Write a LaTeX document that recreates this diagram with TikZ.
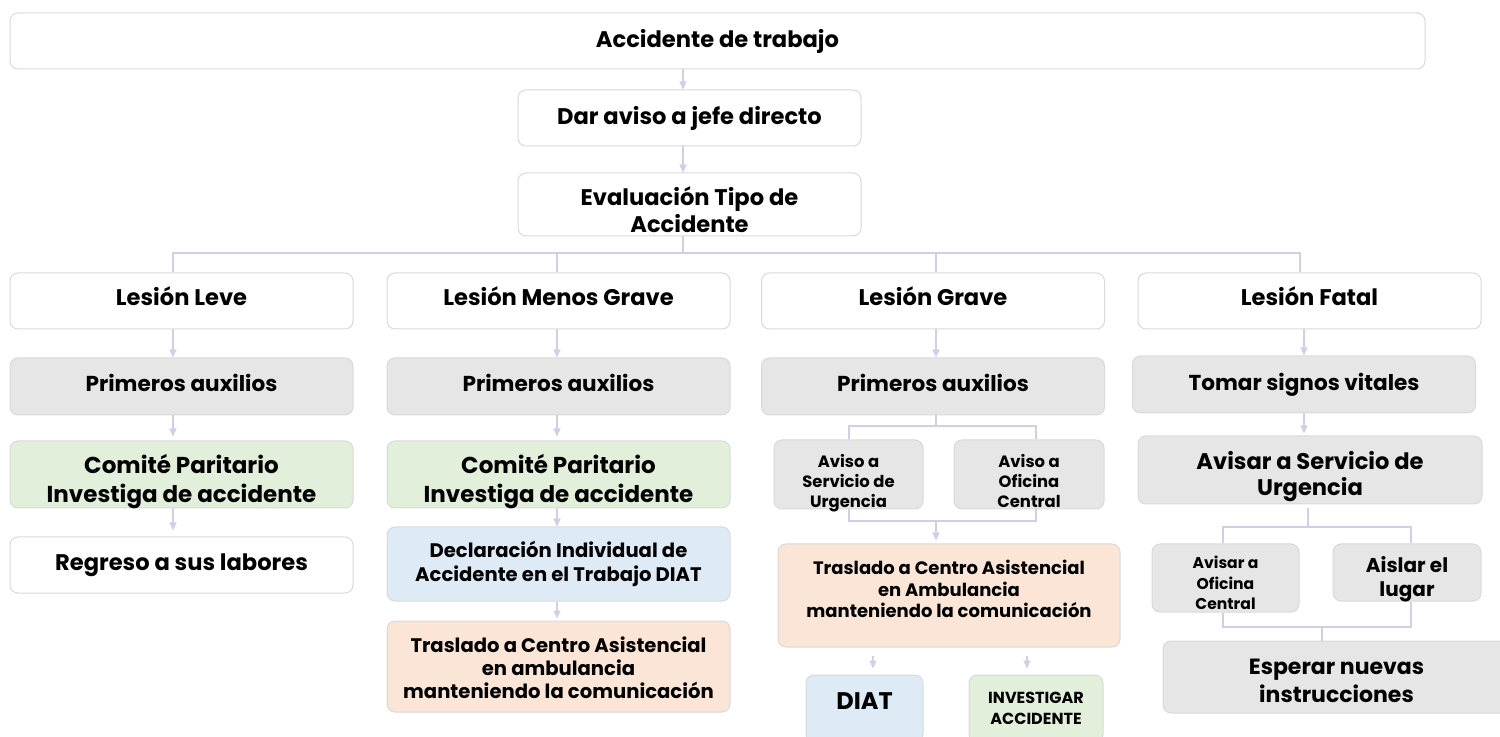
\documentclass[tikz,border=0pt]{standalone}
\usepackage{fontspec}
\setmainfont{Poppins}
\usetikzlibrary{positioning, arrows.meta, calc}

\definecolor{boxline}{HTML}{D9D9D9}
\definecolor{fillgray}{HTML}{E7E6E6}
\definecolor{fillgreen}{HTML}{E2EFDA}
\definecolor{fillblue}{HTML}{DEEBF7}
\definecolor{fillorange}{HTML}{FBE5D6}
\definecolor{connline}{HTML}{D5CDE6}

% texto desplazado verticalmente dentro de la caja
\newcommand{\desplazar}[2]{\raisebox{#1}[\height][\depth]{\begin{tabular}{@{}c@{}}#2\end{tabular}}}

\tikzset{
    box/.style={draw=boxline, line width=0.5pt, rounded corners=4pt,
        align=center, inner sep=1pt, text=black},
    wbox/.style={box, fill=white},
    gbox/.style={box, fill=fillgray},
    grbox/.style={box, fill=fillgreen},
    blbox/.style={box, fill=fillblue},
    orbox/.style={box, fill=fillorange},
    colw/.style={minimum width=171.5pt},
    txtA/.style={font=\bfseries\fontsize{11.3}{13.4}\selectfont},
    txtP/.style={font=\bfseries\fontsize{10.8}{13}\selectfont},
    txtB/.style={font=\bfseries\fontsize{11.5}{14.3}\selectfont},
    txtC/.style={font=\bfseries\fontsize{9.8}{11.7}\selectfont},
    txtD/.style={font=\bfseries\fontsize{8.2}{10.1}\selectfont},
    conn/.style={draw=connline, line width=0.6pt},
    arr/.style={conn, -{Triangle[width=3.5pt,length=4pt]}}
}

\begin{document}
\begin{tikzpicture}[x=0.5pt, y=-0.5pt]
    \useasboundingbox (0,0) rectangle (1500,737);

    % --- cabecera ---
    \node[wbox, txtA, minimum width=707.5pt, minimum height=28pt] (acc) at (717.5,41) {Accidente de trabajo};
    \node[wbox, txtA, colw, minimum height=28pt] (aviso) at (689.5,118) {Dar aviso a jefe directo};
    \node[wbox, txtA, colw, minimum height=31.5pt] (eval) at (689.5,204.5) {\desplazar{-4.5pt}{Evaluación Tipo de\\Accidente}};

    % --- tipos de lesion ---
    \node[wbox, txtA, colw, minimum height=28pt] (leve) at (181.5,301) {\desplazar{0.7pt}{Lesión Leve}};
    \node[wbox, txtA, colw, minimum height=28pt] (mgrave) at (558.5,301) {\desplazar{0.7pt}{Lesión Menos Grave}};
    \node[wbox, txtA, colw, minimum height=28pt] (grave) at (933,301) {\desplazar{0.7pt}{Lesión Grave}};
    \node[wbox, txtA, colw, minimum height=28pt] (fatal) at (1309.5,301) {\desplazar{0.7pt}{Lesión Fatal}};

    % --- primera atencion ---
    \node[gbox, txtP, colw, minimum height=28.5pt] (pa1) at (181.5,386.5) {\desplazar{0pt}{Primeros auxilios}};
    \node[gbox, txtP, colw, minimum height=28.5pt] (pa2) at (558.5,386.5) {\desplazar{0pt}{Primeros auxilios}};
    \node[gbox, txtP, colw, minimum height=28.5pt] (pa3) at (933,386.5) {\desplazar{0pt}{Primeros auxilios}};
    \node[gbox, txtP, colw, minimum height=28.5pt] (signos) at (1304,384.5) {Tomar signos vitales};

    % --- columna leve ---
    \node[grbox, txtB, colw, minimum height=33.5pt] (cp1) at (181.5,474.5) {\desplazar{-4pt}{Comité Paritario\\Investiga de accidente}};
    \node[wbox, txtA, colw, minimum height=28pt] (regreso) at (181.5,565) {Regreso a sus labores};

    % --- columna menos grave ---
    \node[grbox, txtB, colw, minimum height=33.5pt] (cp2) at (558.5,474.5) {\desplazar{-4pt}{Comité Paritario\\Investiga de accidente}};
    \node[blbox, txtC, colw, minimum height=37pt] (diat2) at (558.5,564) {Declaración Individual de\\Accidente en el Trabajo DIAT};
    \node[orbox, txtC, colw, minimum height=45.5pt] (tras2) at (558.5,666.5) {\desplazar{-2.2pt}{Traslado a Centro Asistencial\\en ambulancia\\manteniendo la comunicación}};

    % --- columna grave ---
    \node[gbox, txtD, minimum width=74.5pt, minimum height=34.5pt] (urg3) at (848.5,474.5) {\desplazar{-4.5pt}{Aviso a\\Servicio de\\Urgencia}};
    \node[gbox, txtD, minimum width=75pt, minimum height=34.5pt] (ofi3) at (1029,474.5) {\desplazar{-4.5pt}{Aviso a\\Oficina\\Central}};
    \node[orbox, font=\bfseries\fontsize{9}{10.8}\selectfont, minimum width=171pt, minimum height=51.5pt] (tras3) at (949,595.5) {\desplazar{1.8pt}{Traslado a Centro Asistencial\\en Ambulancia\\manteniendo la comunicación}};
    \node[blbox, font=\bfseries\fontsize{12}{14}\selectfont, minimum width=58.5pt, minimum height=33.5pt] (diat3) at (864.5,708.5) {\desplazar{2.3pt}{DIAT}};
    \node[grbox, font=\bfseries\fontsize{8}{10.5}\selectfont, minimum width=67pt, minimum height=33.5pt] (inv3) at (1036,708.5) {INVESTIGAR\\ACCIDENTE};

    % --- columna fatal ---
    \node[gbox, font=\bfseries\fontsize{11.3}{13.3}\selectfont, minimum width=172pt, minimum height=34pt] (urg4) at (1310,470) {\desplazar{-3.5pt}{Avisar a Servicio de\\Urgencia}};
    \node[gbox, font=\bfseries\fontsize{7.8}{10.2}\selectfont, minimum width=73.5pt, minimum height=34pt] (ofi4) at (1225.5,578) {\desplazar{-3.5pt}{Avisar a\\Oficina\\Central}};
    \node[gbox, font=\bfseries\fontsize{10}{11.8}\selectfont, minimum width=74pt, minimum height=28.5pt] (aislar) at (1407,572.5) {\desplazar{-3.5pt}{Aislar el\\lugar}};
    \node[gbox, font=\bfseries\fontsize{11}{13.8}\selectfont, minimum width=173.5pt, minimum height=36pt] (esperar) at (1336.5,677) {\desplazar{-3pt}{Esperar nuevas\\instrucciones}};

    % --- puntos de paso de los conectores ---
    \coordinate (top) at (683,0);
    \coordinate (busL) at (173,253);
    \coordinate (busR) at (1300,253);
    \coordinate (c1) at (173,0);
    \coordinate (c2) at (557,0);
    \coordinate (c3) at (936,0);
    \coordinate (c4) at (1304,0);
    \coordinate (g3a) at (849,426);
    \coordinate (g3b) at (1036,426);
    \coordinate (g3c) at (849,521);
    \coordinate (g3d) at (1036,521);
    \coordinate (d3) at (873,0);
    \coordinate (i3) at (1027,0);
    \coordinate (f4a) at (1223,527);
    \coordinate (f4b) at (1411,527);
    \coordinate (f4c) at (1223,627);
    \coordinate (f4d) at (1411,627);
    \coordinate (c4b) at (1308,0);
    \coordinate (c4c) at (1322,0);

    % --- conectores ---
    \draw[arr] (top |- acc.south) -- (top |- aviso.north);
    \draw[arr] (top |- aviso.south) -- (top |- eval.north);
    \draw[conn] (top |- eval.south) -- (top |- busL);
    \draw[conn] (busL |- leve.north) -- (busL) -- (busR) -- (busR |- fatal.north);
    \draw[conn] (c2 |- busL) -- (c2 |- mgrave.north);
    \draw[conn] (c3 |- busL) -- (c3 |- grave.north);

    \draw[arr] (c1 |- leve.south) -- (c1 |- pa1.north);
    \draw[arr] (c2 |- mgrave.south) -- (c2 |- pa2.north);
    \draw[arr] (c3 |- grave.south) -- (c3 |- pa3.north);
    \draw[arr] (c4 |- fatal.south) -- (c4 |- signos.north);

    \draw[arr, shorten >=2pt] (c1 |- pa1.south) -- (c1 |- cp1.north);
    \draw[arr, shorten >=3pt] (c1 |- cp1.south) -- (c1 |- regreso.north);

    \draw[arr, shorten >=2pt] (c2 |- pa2.south) -- (c2 |- cp2.north);
    \draw[arr] (c2 |- cp2.south) -- (c2 |- diat2.north);
    \draw[arr, shorten >=1pt] (c2 |- diat2.south) -- (c2 |- tras2.north);

    \draw[conn] (c3 |- pa3.south) -- (c3 |- g3a);
    \draw[conn] (g3a |- urg3.north) -- (g3a) -- (g3b) -- (g3b |- ofi3.north);
    \draw[conn] (g3c |- urg3.south) -- (g3c) -- (g3d) -- (g3d |- ofi3.south);
    \draw[arr, shorten >=1.5pt] (c3 |- g3c) -- (c3 |- tras3.north);
    \draw[arr, shorten <=4pt, shorten >=3pt] (d3 |- tras3.south) -- (d3 |- diat3.north);
    \draw[arr, shorten <=4pt, shorten >=3pt] (i3 |- tras3.south) -- (i3 |- inv3.north);

    \draw[arr, shorten >=1pt] (c4 |- signos.south) -- (c4 |- urg4.north);
    \draw[conn, shorten <=2pt] (c4b |- urg4.south) -- (c4b |- f4a);
    \draw[conn] (f4a |- ofi4.north) -- (f4a) -- (f4b) -- (f4b |- aislar.north);
    \draw[conn] (f4c |- ofi4.south) -- (f4c) -- (f4d) -- (f4d |- aislar.south);
    \draw[conn] (c4c |- f4c) -- (c4c |- esperar.north);

\end{tikzpicture}
\end{document}
